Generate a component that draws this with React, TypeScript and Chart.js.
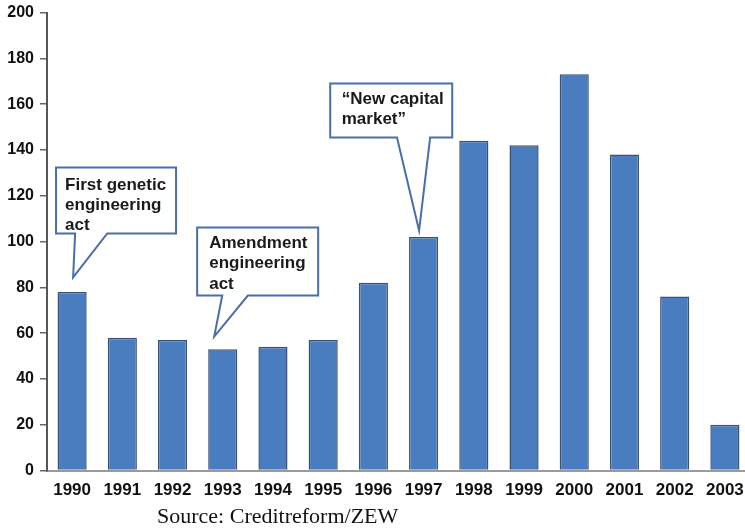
import React, { useEffect, useRef } from "react";
import { Chart, registerables } from "chart.js";

Chart.register(...registerables);

const years = ["1990", "1991", "1992", "1993", "1994", "1995", "1996", "1997", "1998", "1999", "2000", "2001", "2002", "2003"];
const firms = [78, 58, 57, 53, 54, 57, 82, 102, 144, 142, 173, 138, 76, 20];
const yTicks = [0, 20, 40, 60, 80, 100, 120, 140, 160, 180, 200];
const sourceText = "Source: Creditreform/ZEW";

// callouts in data units (x = category index, y = value)
const calloutLines = [
  ["First genetic", "engineering", "act"],
  ["Amendment", "engineering", "act"],
  ["\u201CNew capital", "market\u201D"],
];
const calloutBoxes = [
  { l: -0.32, r: 2.07, t: 132.3, b: 103.5, bl: 0.06, br: 0.7, tx: 0.02, ty: 84.3, textX: -0.14, textY: 122.6 },
  { l: 2.49, r: 4.9, t: 106.1, b: 76.4, bl: 2.99, br: 3.5, tx: 2.83, ty: 58.5, textX: 2.73, textY: 97.1 },
  { l: 5.14, r: 7.57, t: 169.0, b: 145.4, bl: 6.47, br: 7.13, tx: 6.91, ty: 104.8, textX: 5.37, textY: 160.1 },
];

const calloutPlugin = {
  id: "callouts",
  afterDraw(chart: any) {
    const ctx = chart.ctx;
    const xs = chart.scales.x;
    const ys = chart.scales.y;
    const px = (v: number) => xs.getPixelForValue(0) + v * (xs.getPixelForValue(1) - xs.getPixelForValue(0));
    const py = (v: number) => ys.getPixelForValue(v);
    ctx.save();
    calloutBoxes.forEach((c, i) => {
      ctx.beginPath();
      ctx.moveTo(px(c.l), py(c.t));
      ctx.lineTo(px(c.r), py(c.t));
      ctx.lineTo(px(c.r), py(c.b));
      ctx.lineTo(px(c.br), py(c.b));
      ctx.lineTo(px(c.tx), py(c.ty));
      ctx.lineTo(px(c.bl), py(c.b));
      ctx.lineTo(px(c.l), py(c.b));
      ctx.closePath();
      ctx.fillStyle = "#ffffff";
      ctx.fill();
      ctx.lineWidth = 2;
      ctx.strokeStyle = "#4a6ea8";
      ctx.lineJoin = "miter";
      ctx.stroke();
      ctx.fillStyle = "#1a1a1a";
      ctx.font = "bold 17px 'Liberation Sans', Arial, sans-serif";
      ctx.textAlign = "left";
      ctx.textBaseline = "alphabetic";
      calloutLines[i].forEach((line, j) => {
        ctx.fillText(line, px(c.textX), py(c.textY) + j * 20.3);
      });
    });
    ctx.restore();
  },
};

export default function App() {
  const ref = useRef<HTMLCanvasElement>(null);
  useEffect(() => {
    if (!ref.current) return;
    const chart = new Chart(ref.current, {
      type: "bar",
      data: {
        labels: years,
        datasets: [
          {
            data: firms,
            backgroundColor: "#4a7dc0",
            borderColor: "#3a5276",
            borderWidth: 1.5,
            barPercentage: 0.58,
            categoryPercentage: 1,
          },
        ],
      },
      options: {
        responsive: false,
        animation: false,
        devicePixelRatio: 1,
        layout: { padding: { top: 12.5, right: 5, left: 0, bottom: 0 } },
        plugins: { legend: { display: false }, tooltip: { enabled: false }, title: { display: false } },
        scales: {
          x: {
            grid: { display: false, drawTicks: false },
            border: { display: true, color: "#9a9a9a", width: 2 },
            ticks: {
              color: "#111",
              font: { family: "'Liberation Sans', Arial, sans-serif", size: 17, weight: "bold" },
              padding: 10,
              maxRotation: 0,
              autoSkip: false,
            },
            afterFit: (axis: any) => {
              axis.height = 58.5;
            },
          },
          y: {
            min: 0,
            max: 200,
            afterBuildTicks: (axis: any) => {
              axis.ticks = yTicks.map((v) => ({ value: v }));
            },
            grid: { drawOnChartArea: false, drawTicks: true, tickLength: 7, color: "#666", lineWidth: 1.5 },
            border: { display: true, color: "#5a5550", width: 2 },
            ticks: {
              color: "#111",
              font: { family: "'Liberation Sans', Arial, sans-serif", size: 16, weight: "bold" },
              padding: 6,
            },
            afterFit: (axis: any) => {
              axis.width = 47;
              axis.paddingTop = 0;
              axis.paddingBottom = 0;
            },
          },
        },
      },
      plugins: [calloutPlugin],
    });
    return () => chart.destroy();
  }, []);
  return (
    <div style={{ position: "absolute", left: 0, top: 0, width: 745, height: 529, overflow: "hidden", background: "#fff" }}>
      <canvas ref={ref} width={755} height={529} style={{ width: 755, height: 529, display: "block" }} />
      <div
        style={{
          position: "absolute",
          left: 157,
          top: 503,
          fontFamily: "'Liberation Serif', 'Times New Roman', serif",
          fontSize: 22,
          lineHeight: "26px",
          color: "#111",
          whiteSpace: "nowrap",
        }}
      >
        {sourceText}
      </div>
    </div>
  );
}
